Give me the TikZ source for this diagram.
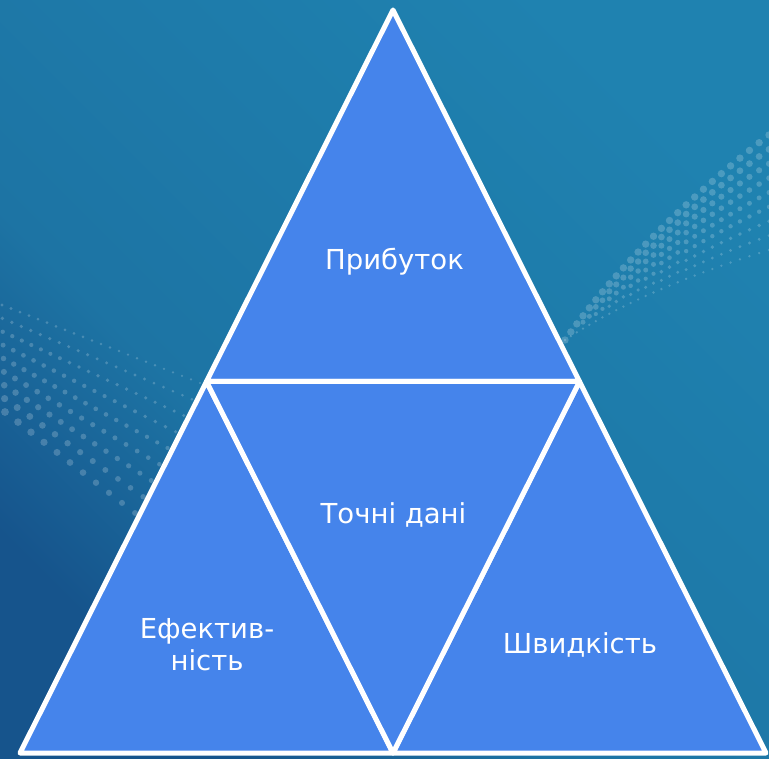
\documentclass[tikz,border=0pt]{standalone}
\usepackage{fontspec}
\setmainfont{DejaVu Sans}
\definecolor{bgdark}{RGB}{22,84,140}
\definecolor{bgmid}{RGB}{29,116,164}
\definecolor{bglight}{RGB}{31,130,176}
\definecolor{trifill}{RGB}{69,132,235}
\pgfdeclareverticalshading{bgshade}{100bp}{color(0bp)=(bgdark); color(25bp)=(bgdark); color(40bp)=(bgmid); color(75bp)=(bglight); color(100bp)=(bglight)}
\begin{document}
\begin{tikzpicture}[x=1pt,y=-1pt,
  dot/.style={fill=white,fill opacity=0.2},
  tri/.style={fill=trifill,draw=white,line width=5pt,line join=round},
  lbl/.style={text=white,font=\fontsize{27.5}{32}\selectfont,align=center,inner sep=0pt}]
\useasboundingbox (0,0) rectangle (769,759);
\shade[shading=bgshade, shading angle=-45] (0,0) rectangle (769,759);
% left dot cloud
\foreach \i in {0,...,8}{
  \pgfmathsetmacro\vv{\i/8}
  \pgfmathtruncatemacro\nn{22-12*\vv}
  \foreach \j in {0,...,\nn}{
    \pgfmathsetmacro\uu{\j/\nn}
    \pgfmathsetmacro\px{(2+3*\vv)*(1-\uu)+(200-65*\vv)*\uu}
    \pgfmathsetmacro\py{(305+107*\vv)*(1-\uu)+(383+130*\vv)*\uu}
    \pgfmathsetmacro\rr{(1.6+2.3*\vv)*(1-0.25*\uu)}
    \fill[dot] (\px,\py) circle[radius=\rr];
  }
}
% right dot cloud
\foreach \j in {0,...,26}{
  \pgfmathsetmacro\uu{\j/26}
  \pgfmathtruncatemacro\nr{1+7*min(1,1.6*\uu)}
  \pgfmathsetmacro\ux{(1-\uu)*(1-\uu)*565+2*\uu*(1-\uu)*640+\uu*\uu*769}
  \pgfmathsetmacro\uy{(1-\uu)*(1-\uu)*340+2*\uu*(1-\uu)*235+\uu*\uu*135}
  \pgfmathsetmacro\lx{(1-\uu)*(1-\uu)*565+2*\uu*(1-\uu)*640+\uu*\uu*769}
  \pgfmathsetmacro\ly{(1-\uu)*(1-\uu)*340+2*\uu*(1-\uu)*290+\uu*\uu*250}
  \foreach \i in {0,...,\nr}{
    \pgfmathsetmacro\vv{\i/\nr}
    \pgfmathsetmacro\px{\ux*(1-\vv)+\lx*\vv}
    \pgfmathsetmacro\py{\uy*(1-\vv)+\ly*\vv}
    \pgfmathsetmacro\rr{1.3+2.4*(1-\vv)}
    \fill[dot] (\px,\py) circle[radius=\rr];
  }
}
% triangles
\coordinate (A) at (393,10);
\coordinate (B) at (20,753);
\coordinate (C) at (766,753);
\coordinate (AB) at (206.5,381.5);
\coordinate (AC) at (579.5,381.5);
\coordinate (BC) at (393,753);
\draw[tri] (A) -- (AC) -- (AB) -- cycle;
\draw[tri] (AB) -- (BC) -- (B) -- cycle;
\draw[tri] (AC) -- (C) -- (BC) -- cycle;
\draw[tri] (AB) -- (AC) -- (BC) -- cycle;
% labels
\node[lbl,anchor=base] (p) at (394.5,270) {Прибуток};
\node[lbl,anchor=base] (t) at (393.5,523) {Точні дані};
\node[lbl] (e) at (207,645) {Ефектив-\\ність};
\node[lbl,anchor=base] (s) at (580,653) {Швидкість};
\end{tikzpicture}
\end{document}
